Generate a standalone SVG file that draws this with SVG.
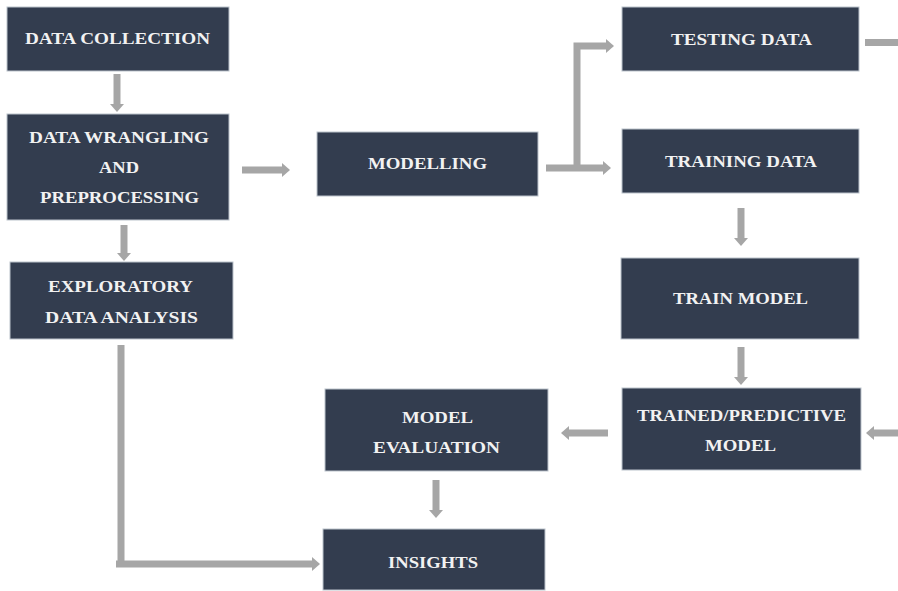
<svg xmlns="http://www.w3.org/2000/svg" width="898" height="591" viewBox="0 0 898 591">
<style>
.box{fill:#333D4F;stroke:#BCC3CC;stroke-width:1}
.t{font-family:"Liberation Serif","Times New Roman",serif;font-weight:700;font-size:16px;fill:#F2F2F2;text-anchor:middle}
.c{stroke:#A6A6A6;stroke-width:7;fill:none}
</style>
<defs>
<marker id="ah" markerUnits="userSpaceOnUse" markerWidth="8" markerHeight="14" viewBox="0 0 8 14" refX="0" refY="7" orient="auto">
<path d="M0,0 L8,7 L0,14 Z" fill="#A6A6A6"/>
</marker>
</defs>
<rect width="898" height="591" fill="#FFFFFF"/>
<g id="connectors">
<line class="c" x1="117" y1="74" x2="117" y2="104" marker-end="url(#ah)"/>
<line class="c" x1="242" y1="170" x2="282" y2="170" marker-end="url(#ah)"/>
<line class="c" x1="124" y1="225" x2="124" y2="253" marker-end="url(#ah)"/>
<line class="c" x1="546" y1="168" x2="603" y2="168" marker-end="url(#ah)"/>
<polyline class="c" stroke-width="6" points="577,168 577,46 606,46" marker-end="url(#ah)"/>
<line class="c" x1="865" y1="42.5" x2="898" y2="42.5"/>
<line class="c" x1="741" y1="208" x2="741" y2="238" marker-end="url(#ah)"/>
<line class="c" x1="741" y1="347" x2="741" y2="377" marker-end="url(#ah)"/>
<line class="c" x1="898" y1="433" x2="874" y2="433" marker-end="url(#ah)"/>
<line class="c" x1="608" y1="433" x2="569" y2="433" marker-end="url(#ah)"/>
<line class="c" x1="436" y1="480" x2="436" y2="510" marker-end="url(#ah)"/>
<line class="c" stroke-width="10" x1="121" y1="345" x2="121" y2="567"/>
<line class="c" stroke-width="6" x1="116" y1="564" x2="312" y2="564" marker-end="url(#ah)"/>
</g>
<g id="data-collection">
<rect class="box" x="7" y="7" width="222" height="64"/>
<text class="t" x="117.5" y="44" textLength="185" lengthAdjust="spacingAndGlyphs">DATA COLLECTION</text>
</g>
<g id="data-wrangling">
<rect class="box" x="7" y="114" width="222" height="106"/>
<text class="t" x="119" y="143" textLength="180" lengthAdjust="spacingAndGlyphs">DATA WRANGLING</text>
<text class="t" x="119" y="173" textLength="40" lengthAdjust="spacingAndGlyphs">AND</text>
<text class="t" x="119.5" y="203" textLength="159" lengthAdjust="spacingAndGlyphs">PREPROCESSING</text>
</g>
<g id="eda">
<rect class="box" x="10" y="262" width="223" height="77"/>
<text class="t" x="120.5" y="292" textLength="145" lengthAdjust="spacingAndGlyphs">EXPLORATORY</text>
<text class="t" x="121.5" y="323" textLength="153" lengthAdjust="spacingAndGlyphs">DATA ANALYSIS</text>
</g>
<g id="modelling">
<rect class="box" x="317" y="132" width="221" height="64"/>
<text class="t" x="427.5" y="169" textLength="119" lengthAdjust="spacingAndGlyphs">MODELLING</text>
</g>
<g id="testing-data">
<rect class="box" x="622" y="7" width="237" height="64"/>
<text class="t" x="741.5" y="45" textLength="141" lengthAdjust="spacingAndGlyphs">TESTING DATA</text>
</g>
<g id="training-data">
<rect class="box" x="622" y="129" width="237" height="64"/>
<text class="t" x="741" y="167" textLength="152" lengthAdjust="spacingAndGlyphs">TRAINING DATA</text>
</g>
<g id="train-model">
<rect class="box" x="621" y="258" width="238" height="81"/>
<text class="t" x="740.5" y="304" textLength="135" lengthAdjust="spacingAndGlyphs">TRAIN MODEL</text>
</g>
<g id="trained-model">
<rect class="box" x="622" y="388" width="239" height="82"/>
<text class="t" x="741.5" y="421" textLength="209" lengthAdjust="spacingAndGlyphs">TRAINED/PREDICTIVE</text>
<text class="t" x="740.5" y="451" textLength="71" lengthAdjust="spacingAndGlyphs">MODEL</text>
</g>
<g id="model-evaluation">
<rect class="box" x="325" y="389" width="223" height="82"/>
<text class="t" x="437.5" y="423" textLength="71" lengthAdjust="spacingAndGlyphs">MODEL</text>
<text class="t" x="436.5" y="453" textLength="127" lengthAdjust="spacingAndGlyphs">EVALUATION</text>
</g>
<g id="insights">
<rect class="box" x="323" y="529" width="222" height="61"/>
<text class="t" x="433" y="568" textLength="90" lengthAdjust="spacingAndGlyphs">INSIGHTS</text>
</g>
</svg>
